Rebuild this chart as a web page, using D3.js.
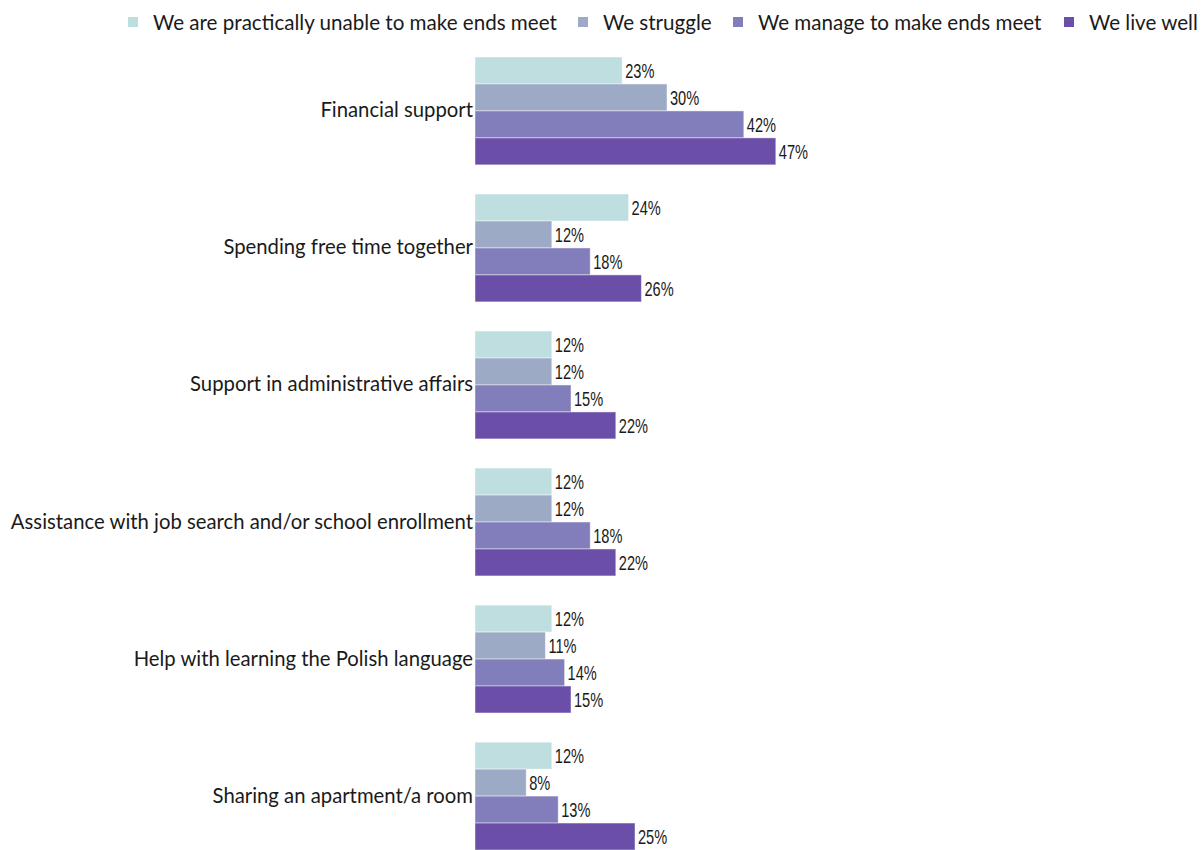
<!DOCTYPE html>
<html>
<head>
<meta charset="utf-8">
<script src="https://cdn.jsdelivr.net/npm/d3@7"></script>
<style>
  html, body { margin: 0; padding: 0; background: #ffffff; }
  svg { display: block; }
</style>
</head>
<body>
<svg id="chart" width="1202" height="850"></svg>
<script>
// Forms of support, split by household financial situation (percent)
const categories = [
  "Financial support",
  "Spending free time together",
  "Support in administrative affairs",
  "Assistance with job search and/or school enrollment",
  "Help with learning the Polish language",
  "Sharing an apartment/a room"
];
const seriesNames = [
  "We are practically unable to make ends meet",
  "We struggle",
  "We manage to make ends meet",
  "We live well"
];
const unableValues = [23, 24, 12, 12, 12, 12];
const struggleValues = [30, 12, 12, 12, 11, 8];
const manageValues = [42, 18, 15, 18, 14, 13];
const liveWellValues = [47, 26, 22, 22, 15, 25];
const seriesColors = ["#bedee0", "#9daac6", "#827dbb", "#6a4ea8"];

const seriesValues = [unableValues, struggleValues, manageValues, liveWellValues];

const svg = d3.select("#chart");

const x = d3.scaleLinear().domain([0, 100]).range([475, 1115]);
const y = d3.scaleBand().domain(categories).range([42.4, 864.6]).paddingInner(0.213).paddingOuter(0.1065);
const ySub = d3.scaleBand().domain(d3.range(seriesNames.length)).range([0, y.bandwidth()]);

const rows = categories.map((c, i) => ({
  category: c,
  values: seriesValues.map((vals, s) => ({ s, v: vals[i] }))
}));

const groups = svg.append("g").selectAll("g")
  .data(rows).join("g")
  .attr("transform", d => `translate(0,${y(d.category)})`);

groups.selectAll("rect")
  .data(d => d.values).join("rect")
  .attr("x", x(0))
  .attr("y", d => ySub(d.s))
  .attr("width", d => x(d.v) - x(0))
  .attr("height", ySub.bandwidth())
  .attr("fill", d => seriesColors[d.s])
  .attr("stroke", "#ffffff")
  .attr("stroke-opacity", 0.45)
  .attr("stroke-width", 1);

// Value labels in a condensed face: horizontally compressed sans
groups.selectAll("text.val")
  .data(d => d.values).join("text")
  .attr("class", "val")
  .attr("transform", d => `translate(${x(d.v) + 3},${ySub(d.s) + ySub.bandwidth() / 2}) scale(0.73,1)`)
  .attr("dy", "0.36em")
  .attr("font-family", "'Liberation Sans', Arial, sans-serif")
  .attr("font-size", 20)
  .attr("fill", "#1a1a1a")
  .text(d => d.v + "%");

// Category axis on the left, no line or ticks
const yAxis = d3.axisLeft(y).tickSize(0).tickPadding(2);
const axisG = svg.append("g")
  .attr("transform", `translate(${x(0)},0)`)
  .call(yAxis);
axisG.select(".domain").remove();
axisG.selectAll("text")
  .attr("font-family", "Lato, 'Noto Sans', sans-serif")
  .attr("font-size", 20.3)
  .attr("fill", "#1a1a1a");

// Legend across the top
const legendX = [153, 603, 758, 1089];
const legend = svg.append("g").selectAll("g")
  .data(seriesNames).join("g")
  .attr("transform", (d, i) => `translate(${legendX[i]},0)`);
legend.append("rect")
  .attr("x", -25).attr("y", 17)
  .attr("width", 10).attr("height", 10)
  .attr("fill", (d, i) => seriesColors[i]);
legend.append("text")
  .attr("x", 0).attr("y", 23)
  .attr("dy", "0.36em")
  .attr("font-family", "Lato, 'Noto Sans', sans-serif")
  .attr("font-size", 20.6)
  .attr("fill", "#1a1a1a")
  .text(d => d);
</script>
</body>
</html>
